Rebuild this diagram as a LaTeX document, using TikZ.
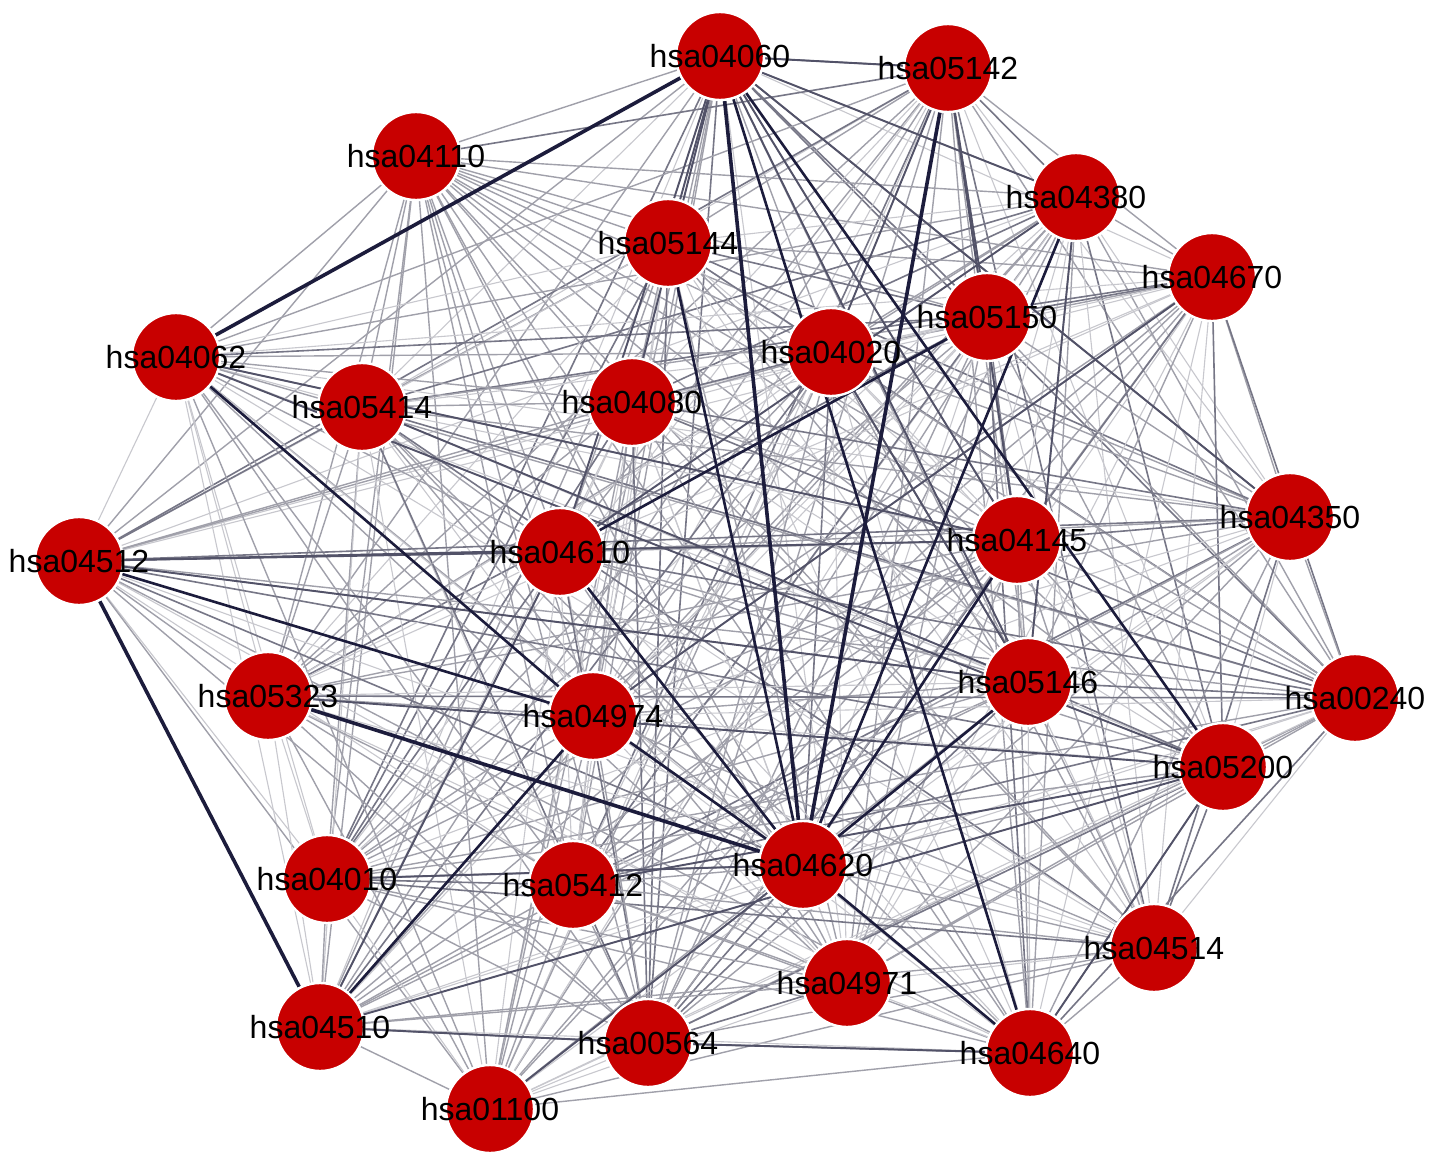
\documentclass[tikz,border=0pt]{standalone}
\usepackage{fontspec}
\setmainfont{Liberation Sans}
\pgfdeclarelayer{background}
\pgfdeclarelayer{canvas}
\pgfsetlayers{canvas,background,main}
\definecolor{nodered}{RGB}{200,0,0}
\definecolor{elightc}{RGB}{200,200,206}
\definecolor{emidc}{RGB}{160,160,170}
\definecolor{edarkc}{RGB}{118,118,134}
\definecolor{estrongc}{RGB}{82,82,104}
\definecolor{navyc}{RGB}{28,28,60}
\tikzset{
  hub/.style={circle, fill=nodered, draw=white, line width=1.2pt, minimum size=44pt, inner sep=0pt},
  lab/.style={font=\fontsize{16}{19}\selectfont, text=black, inner sep=0pt},
  elight/.style={draw=elightc, line width=0.55pt},
  emid/.style={draw=emidc, line width=0.7pt},
  edark/.style={draw=edarkc, line width=0.8pt},
  estrong/.style={draw=estrongc, line width=0.95pt},
  enavy/.style={draw=navyc, line width=1.3pt},
  enavythick/.style={draw=navyc, line width=1.8pt}
}
\begin{document}
\begin{tikzpicture}[x=0.5pt,y=-0.5pt]
\useasboundingbox (0,0) rectangle (1441,1167);
\begin{pgfonlayer}{canvas}
\fill[white] (0,0) rectangle (1441,1167);
\end{pgfonlayer}
% nodes
\foreach \n/\x/\y in {
  04060/720/56, 05142/948/68, 04110/416/156, 04380/1076/197,
  05144/668/243, 04670/1212/277, 05150/987/317, 04062/176/357,
  04020/831/352, 05414/362/407, 04080/632/402, 04350/1290/517,
  04145/1017/540, 04512/79/561, 04610/560/552, 05146/1028/682,
  00240/1355/698, 05323/268/696, 04974/593/716, 05200/1223/767,
  04620/803/865, 04010/327/879, 05412/573/885, 04514/1154/948,
  04971/847/983, 04510/320/1027, 00564/648/1043, 04640/1030/1053,
  01100/490/1109}
{
  \node[hub] (n\n) at (\x,\y) {};
}
\foreach \n in {04060,05142,04110,04380,05144,04670,05150,04062,04020,05414,
  04080,04350,04145,04512,04610,05146,00240,05323,04974,05200,04620,04010,
  05412,04514,04971,04510,00564,04640,01100}
{
  \node[lab] (l\n) at (n\n) {hsa\n};
}
\def\nodelist{n04060,n05142,n04110,n04380,n05144,n04670,n05150,n04062,n04020,n05414,n04080,n04350,n04145,n04512,n04610,n05146,n00240,n05323,n04974,n05200,n04620,n04010,n05412,n04514,n04971,n04510,n00564,n04640,n01100}
\begin{pgfonlayer}{background}
% base layer: nearly all pairs are connected
\foreach \a [count=\i] in \nodelist {
  \foreach \b [count=\j] in \nodelist {
    \ifnum\j>\i
      \pgfmathtruncatemacro\k{mod(\i*\i*3+\j*7+\i*\j,10)}
      \ifnum\k<4
        \draw[elight] (\a) -- (\b);
      \else\ifnum\k<8
        \draw[emid] (\a) -- (\b);
      \else
        \draw[edark] (\a) -- (\b);
      \fi\fi
    \fi
  }
}
% stronger edges
\foreach \a/\b in {n04060/n05142, n04010/n04620, n00564/n04640, n04510/n00564,
  n05200/n04640, n04060/n04350, n04060/n05144, n04060/n04080, n04060/n04610,
  n04060/n04145, n04060/n05146, n04060/n04380, n05142/n04020, n05142/n05150,
  n05142/n04145, n04512/n05146, n04512/n04145, n04512/n04610, n04062/n05200,
  n04062/n04145, n05323/n05200, n04510/n05200, n04510/n04610, n05412/n05200,
  n04380/n04610, n04380/n05146, n04020/n05146, n04670/n04974, n05414/n05146,
  n01100/n04620}
{
  \draw[estrong] (\a) -- (\b);
}
% darkest edges
\foreach \a/\b in {n04380/n04620, n05146/n04620, n04512/n04974, n04145/n04620,
  n04610/n05150, n04060/n05200, n04060/n04640, n04620/n04640, n05144/n04620,
  n04062/n04974, n04974/n04620, n04610/n04620, n04974/n04510}
{
  \draw[enavy] (\a) -- (\b);
}
\foreach \a/\b in {n04060/n04062, n05142/n04620, n04512/n04510, n05323/n04620,
  n04060/n04620}
{
  \draw[enavythick] (\a) -- (\b);
}
\end{pgfonlayer}
\end{tikzpicture}
\end{document}
